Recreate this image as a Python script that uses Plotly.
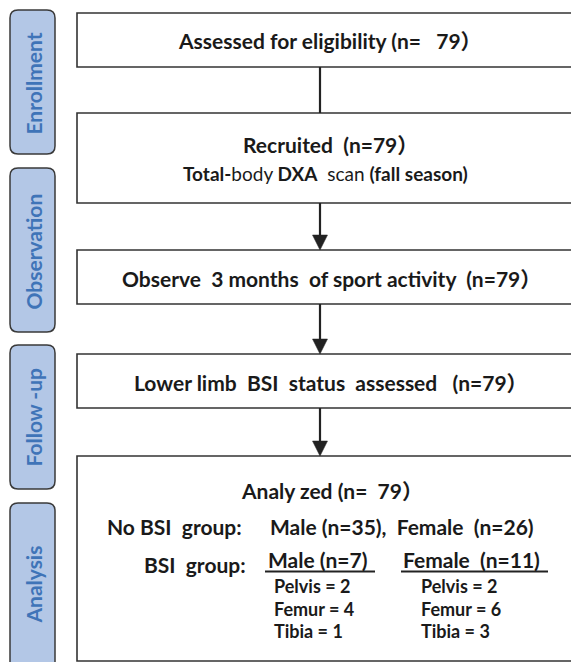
import plotly.graph_objects as go

# ---- data ----
stages = ["Enrollment", "Observation", "Follow -up", "Analysis"]
n_total = 79
no_bsi_counts = [35, 26]          # male, female
bsi_counts = [7, 11]              # male, female
sites = ["Pelvis", "Femur", "Tibia"]
male_sites = [2, 4, 1]
female_sites = [2, 6, 3]

NB = "\u00a0"
FONT = "Lato, 'Noto Sans CJK SC', sans-serif"
TXT = "#1a1a1a"
W, H = 579, 662
OFF = 8  # page body margin

fig = go.Figure()
shapes = []
ann = []

def rect(x0, y0, x1, y1):
    shapes.append(dict(type="rect", x0=x0, y0=y0, x1=x1, y1=y1,
                       line=dict(color="#333333", width=1.6), fillcolor="white", layer="below"))

def rrect(x0, y0, x1, y1, r=8):
    p = (f"M{x0+r},{y0} L{x1-r},{y0} Q{x1},{y0} {x1},{y0+r} L{x1},{y1-r} "
         f"Q{x1},{y1} {x1-r},{y1} L{x0+r},{y1} Q{x0},{y1} {x0},{y1-r} "
         f"L{x0},{y0+r} Q{x0},{y0} {x0+r},{y0} Z")
    shapes.append(dict(type="path", path=p, line=dict(color="#3a3a3a", width=1.5),
                       fillcolor="#b3c7e6", layer="below"))

def text(x, y, s, size=21, anchor="center"):
    ann.append(dict(x=x, y=y, text=s, showarrow=False, xanchor=anchor, yanchor="middle",
                    font=dict(family=FONT, size=size, color=TXT)))

def arrow(x, y0, y1, head=True):
    if head:
        shapes.append(dict(type="line", x0=x, y0=y0, x1=x, y1=y1 - 12,
                           line=dict(color="#222222", width=2.2)))
        shapes.append(dict(type="path", path=f"M{x-7.5},{y1-15} L{x+7.5},{y1-15} L{x},{y1} Z",
                           fillcolor="#222222", line=dict(color="#222222", width=0.5)))
    else:
        shapes.append(dict(type="line", x0=x, y0=y0, x1=x, y1=y1,
                           line=dict(color="#222222", width=2.2)))

# side tabs
tabs = [(10, 55, 10, 154), (10, 55, 168, 332), (10, 55, 345, 489), (10, 55, 503, 672)]
tab_centers = [84, 252, 417, 585]
for (x0, x1, y0, y1), lab, yc in zip(tabs, stages, tab_centers):
    rrect(x0, y0, x1, y1)
    ann.append(dict(x=32.5, y=yc, text=f"<b>{lab}</b>", showarrow=False, textangle=-90,
                    xanchor="center", yanchor="middle",
                    font=dict(family=FONT, size=21, color="#3f74b8")))

# main boxes
BX0, BX1 = 77, 600
rect(BX0, 13, BX1, 67)
rect(BX0, 113, BX1, 203)
rect(BX0, 250, BX1, 304)
rect(BX0, 354, BX1, 408)
rect(BX0, 456, BX1, 661)

# connectors
AX = 320
arrow(AX, 67, 113, head=False)
arrow(AX, 203, 250)
arrow(AX, 304, 354)
arrow(AX, 408, 456)

# box texts
text(330, 40, f"<b>Assessed for eligibility (n={NB*3}{n_total}）</b>")
text(330, 144, f"<b>Recruited{NB*2}(n={n_total}）</b>")
text(325, 173, f"<b>Total-</b>body <b>DXA</b>{NB*2}scan{NB}<b>(fall season)</b>", size=19)
text(331, 278, f"<b>Observe{NB*2}3 months{NB*2}of sport activity{NB*2}(n={n_total}）</b>")
text(331, 382, f"<b>Lower limb{NB*2}BSI{NB*2}status{NB*2}assessed{NB*3}(n={n_total}）</b>")
text(332, 490, f"<b>Analy zed (n={NB*2}{n_total}）</b>")

text(105, 526, f"<b>No BSI{NB*2}group:</b>", anchor="left")
text(268, 526, f"<b>Male (n={no_bsi_counts[0]}),{NB*2}Female{NB*2}(n={no_bsi_counts[1]})</b>", anchor="left")
text(142, 564, f"<b>BSI{NB*2}group:</b>", anchor="left")
text(266, 559, f"<b>Male (n={bsi_counts[0]})</b>", anchor="left")
text(401, 559, f"<b>Female{NB*2}(n={bsi_counts[1]})</b>", anchor="left")

# underlines
shapes.append(dict(type="line", x0=265, x1=375, y0=571.5, y1=571.5, line=dict(color="#222222", width=2)))
shapes.append(dict(type="line", x0=401, x1=548, y0=571.5, y1=571.5, line=dict(color="#222222", width=2)))

site_y = [586, 609, 631]
for s, m, f, yy in zip(sites, male_sites, female_sites, site_y):
    text(272, yy, f"<b>{s} = {m}</b>", size=18, anchor="left")
    text(419, yy, f"<b>{s} = {f}</b>", size=18, anchor="left")

fig.update_layout(
    width=W - OFF, height=H - OFF, margin=dict(l=0, r=0, t=0, b=0),
    paper_bgcolor="white", plot_bgcolor="white",
    xaxis=dict(range=[OFF, W], visible=False, fixedrange=True),
    yaxis=dict(range=[H, OFF], visible=False, fixedrange=True),
    shapes=shapes, annotations=ann, showlegend=False,
)
fig.write_html("out.html")
